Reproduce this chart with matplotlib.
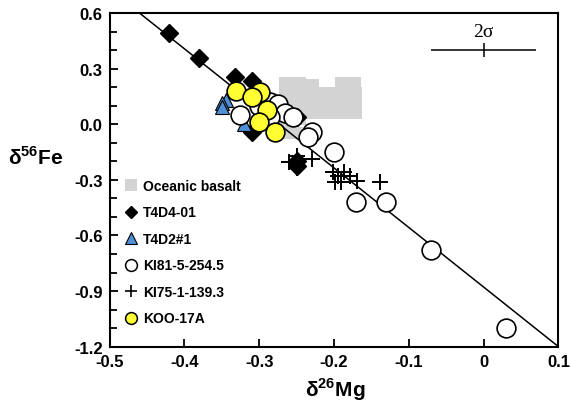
import matplotlib
matplotlib.use("Agg")
import matplotlib.pyplot as plt
from matplotlib.lines import Line2D

plt.rcParams['font.family'] = ['Liberation Sans', 'DejaVu Sans']
plt.rcParams['font.weight'] = 'bold'
plt.rcParams['mathtext.fontset'] = 'custom'
plt.rcParams['mathtext.rm'] = 'Liberation Sans:bold'
plt.rcParams['mathtext.bf'] = 'Liberation Sans:bold'

# oceanic basalt field (grey squares)
basalt_mg = [-0.265, -0.255, -0.245, -0.19, -0.18, -0.172,
             -0.235, -0.228,
             -0.265, -0.255, -0.245, -0.235, -0.225, -0.215, -0.205, -0.195, -0.185, -0.175, -0.17,
             -0.265, -0.255, -0.245, -0.235, -0.225, -0.215, -0.205, -0.195, -0.185, -0.175, -0.17,
             -0.265, -0.255, -0.245, -0.235, -0.225, -0.215, -0.205, -0.195, -0.185, -0.175, -0.17,
             -0.265, -0.255, -0.245,
             -0.265, -0.255,
             -0.26, -0.25]
basalt_fe = [0.22, 0.22, 0.22, 0.22, 0.22, 0.22,
             0.21, 0.21,
             0.17, 0.17, 0.17, 0.17, 0.17, 0.17, 0.17, 0.17, 0.17, 0.17, 0.17,
             0.12, 0.12, 0.12, 0.12, 0.12, 0.12, 0.12, 0.12, 0.12, 0.12, 0.12,
             0.06, 0.06, 0.06, 0.06, 0.06, 0.06, 0.06, 0.06, 0.06, 0.06, 0.06,
             0.03, 0.03, 0.03,
             -0.01, -0.01,
             -0.045, -0.045]

t4d4_mg = [-0.42, -0.38, -0.332, -0.31, -0.249, -0.31, -0.25, -0.25]
t4d4_fe = [0.49, 0.356, 0.255, 0.232, 0.037, -0.04, -0.20, -0.225]

t4d2_mg = [-0.345, -0.35, -0.35, -0.32]
t4d2_fe = [0.13, 0.115, 0.095, 0.0]

ki81_mg = [-0.325, -0.30, -0.285, -0.275, -0.265, -0.255, -0.285, -0.23, -0.235, -0.20,
           -0.17, -0.13, -0.07, 0.03]
ki81_fe = [0.05, 0.10, 0.12, 0.11, 0.06, 0.04, 0.04, -0.04, -0.07, -0.15,
           -0.42, -0.42, -0.68, -1.10]

ki75_mg = [-0.26, -0.25, -0.25, -0.23, -0.201, -0.194, -0.187, -0.179, -0.169, -0.199,
           -0.19, -0.138]
ki75_fe = [-0.205, -0.17, -0.235, -0.185, -0.259, -0.277, -0.259, -0.277, -0.304, -0.313,
           -0.313, -0.313]

koo_mg = [-0.331, -0.299, -0.31, -0.289, -0.30, -0.279]
koo_fe = [0.178, 0.176, 0.148, 0.078, 0.010, -0.043]

# regression line end points and 2 sigma bar
line_mg = [-0.46, 0.1]
line_fe = [0.6, -1.2]
err_mg, err_fe = 0.0, 0.40
err_dmg, err_dfe = 0.07, 0.038

xticks = [-0.5, -0.4, -0.3, -0.2, -0.1, 0.0, 0.1]
xtick_labels = ['-0.5', '-0.4', '-0.3', '-0.2', '-0.1', '0', '0.1']
yticks = [-1.2, -0.9, -0.6, -0.3, 0.0, 0.3, 0.6]
ytick_labels = ['-1.2', '-0.9', '-0.6', '-0.3', '0.0', '0.3', '0.6']
yminor = [-1.1, -1.0, -0.8, -0.7, -0.5, -0.4, -0.2, -0.1, 0.1, 0.2, 0.4, 0.5]

fig = plt.figure(figsize=(5.71, 4.10), dpi=100)
ax = fig.add_axes([0.1918, 0.152, 0.7863, 0.8139])

ax.plot(basalt_mg, basalt_fe, 's', color='#d3d3d3', ms=8.6, mew=0, zorder=1)
ax.plot(line_mg, line_fe, '-', color='black', lw=1.1, zorder=2)
ax.plot(t4d4_mg, t4d4_fe, 'D', color='black', ms=9.5, zorder=3)
ax.plot(t4d2_mg, t4d2_fe, '^', mfc='#4f8fd6', mec='black', mew=0.8, ms=10, zorder=4)
ax.plot(ki81_mg, ki81_fe, 'o', mfc='white', mec='black', mew=1.2, ms=13.5, zorder=5)
ax.plot(ki75_mg, ki75_fe, '+', color='black', mew=1.4, ms=12, zorder=6)
ax.plot(koo_mg, koo_fe, 'o', mfc='#ffff33', mec='black', mew=1.2, ms=13.5, zorder=7)

ax.errorbar(err_mg, err_fe, xerr=err_dmg, yerr=err_dfe, fmt='none', ecolor='black',
            elinewidth=1.1, capsize=0)
ax.text(err_mg, 0.498, '2σ', family='Liberation Serif', fontweight='normal',
        fontsize=14, ha='center', va='center')

ax.set_xlim(-0.5, 0.1)
ax.set_ylim(-1.2, 0.6)
ax.set_xticks(xticks)
ax.set_xticklabels(xtick_labels)
ax.set_yticks(yticks)
ax.set_yticklabels(ytick_labels)
ax.set_yticks(yminor, minor=True)
ax.tick_params(which='both', direction='in', width=1.3, top=False, right=False,
               labelsize=12, pad=5)
ax.tick_params(which='major', length=6)
ax.tick_params(which='minor', length=5)
for s in ax.spines.values():
    s.set_linewidth(1.5)

ax.set_xlabel(r'δ$^{26}$Mg', fontsize=15, fontweight='bold', va='center')
ax.xaxis.set_label_coords(0.502, -0.127)
ax.set_ylabel(r'δ$^{56}$Fe', fontsize=15, fontweight='bold', rotation=0, ha='center', va='center')
ax.yaxis.set_label_coords(-0.164, 0.5685)

handles = [
    Line2D([], [], ls='none', marker='s', color='#d3d3d3', ms=8, mew=0),
    Line2D([], [], ls='none', marker='D', color='black', ms=6.5),
    Line2D([], [], ls='none', marker='^', mfc='#4f8fd6', mec='black', mew=0.8, ms=8),
    Line2D([], [], ls='none', marker='o', mfc='white', mec='black', mew=1.1, ms=8.5),
    Line2D([], [], ls='none', marker='+', color='black', mew=1.2, ms=9),
    Line2D([], [], ls='none', marker='o', mfc='#ffff33', mec='black', mew=1.1, ms=8.5),
]
labels = ['Oceanic basalt', 'T4D4-01', 'T4D2#1', 'KI81-5-254.5', 'KI75-1-139.3', 'KOO-17A']
ax.legend(handles, labels, loc='upper left', bbox_to_anchor=(0.032, 0.5025),
          frameon=False, borderpad=0, borderaxespad=0, handlelength=1.0,
          handletextpad=0.36, labelspacing=0.9, prop={'size': 10, 'weight': 'bold'})

fig.savefig('out.png', dpi=100)
